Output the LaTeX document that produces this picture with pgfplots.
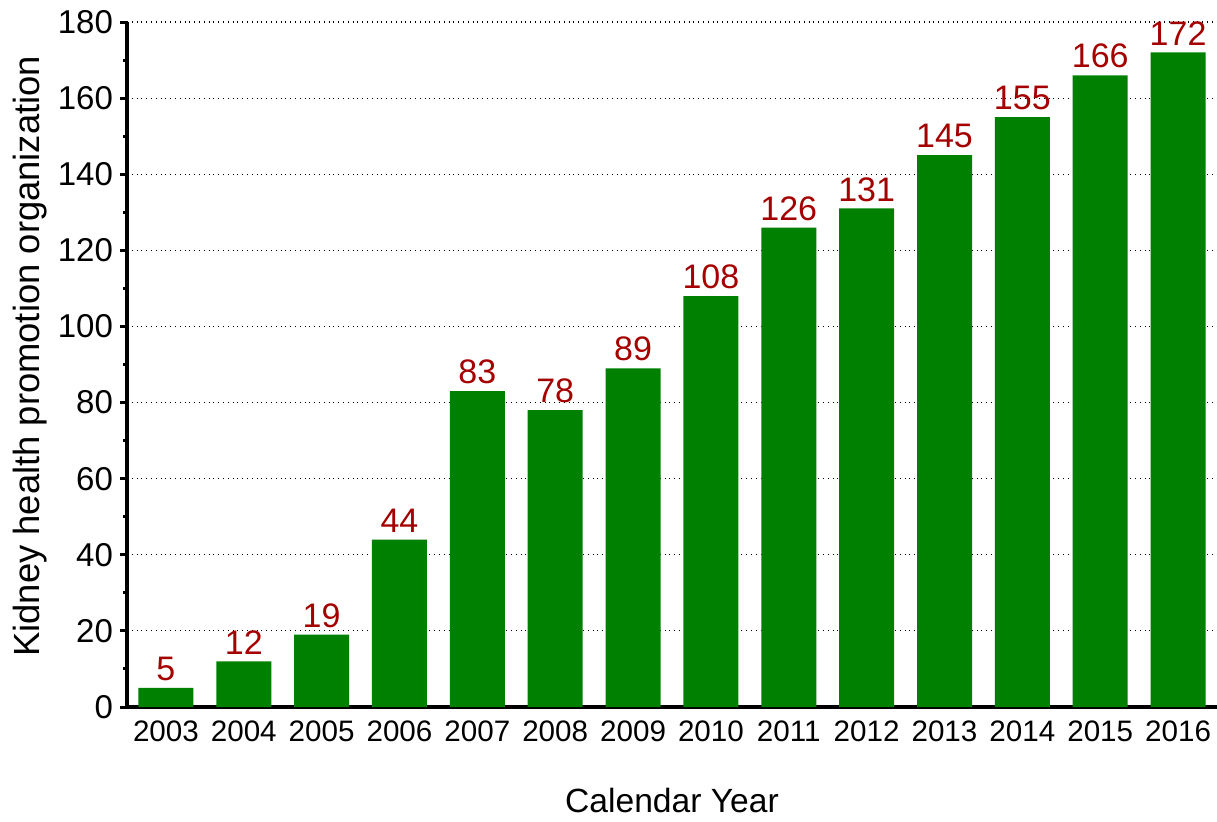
\documentclass[border=0pt]{standalone}
\usepackage{fontspec}
\setmainfont{Liberation Sans}
\usepackage{pgfplots}
\pgfplotsset{compat=1.18}
\usetikzlibrary{calc}
\definecolor{bargreen}{RGB}{0,128,0}
\definecolor{labred}{RGB}{165,0,0}
\begin{document}
\begin{tikzpicture}
\begin{axis}[
  scale only axis,
  width=545pt, height=342.5pt,
  xmin=-0.5, xmax=13.5, ymin=0, ymax=180,
  axis x line*=bottom, axis y line*=left,
  axis line style={line width=2pt, -},
  xtick={0,...,13},
  xticklabels={2003,2004,2005,2006,2007,2008,2009,2010,2011,2012,2013,2014,2015,2016},
  x tick style={draw=none},
  ytick={0,20,...,180},
  minor y tick num=1,
  tick align=outside,
  major tick length=3.5pt,
  minor tick length=1.8pt,
  y tick style={line width=1.5pt, black},
  ymajorgrids,
  major grid style={dotted, black, line width=0.6pt},
  /pgf/number format/assume math mode=true,
  yticklabel style={font=\fontsize{16.5}{19}\selectfont},
  xticklabel style={font=\fontsize{14.8}{18}\selectfont},
  xlabel={Calendar Year},
  ylabel={Kidney health promotion organization},
  xlabel style={font=\fontsize{16.8}{19}\selectfont, at={(axis description cs:0.5,-0.136)}, anchor=center},
  ylabel style={font=\fontsize{18.2}{21}\selectfont, at={(axis description cs:-0.089,0.512)}, anchor=center, rotate=0},
  nodes near coords,
  every node near coord/.append style={font=\fontsize{17}{20}\selectfont, color=labred, anchor=south},
  clip=false,
]
\addplot[ybar, bar width=27.5pt, fill=bargreen, draw=none] coordinates {
(0,5) (1,12) (2,19) (3,44) (4,83) (5,78) (6,89) (7,108) (8,126) (9,131) (10,145) (11,155) (12,166) (13,172)
};
\end{axis}
\pgfresetboundingbox
\useasboundingbox ($(current axis.south west)+(-63.5pt,-57pt)$) rectangle ($(current axis.north east)+(0,11pt)$);
\end{tikzpicture}
\end{document}
